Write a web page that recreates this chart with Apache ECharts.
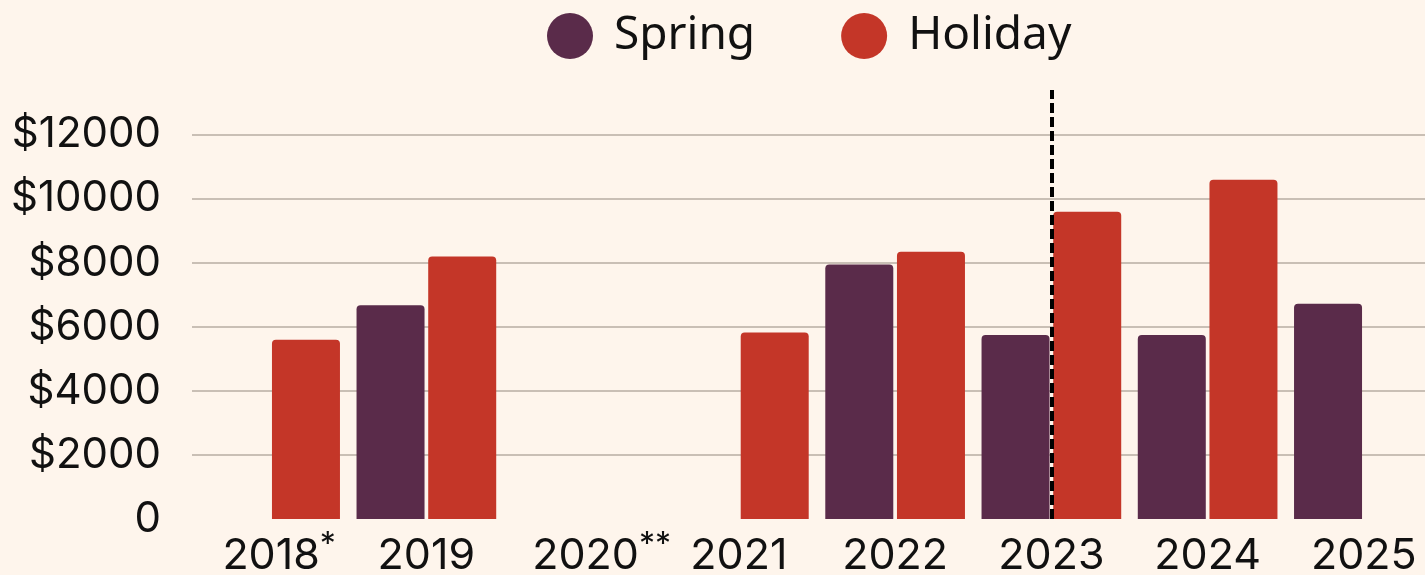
<!DOCTYPE html>
<html>
<head>
<meta charset="utf-8">
<script src="https://cdn.jsdelivr.net/npm/echarts@6/dist/echarts.min.js"></script>
<style>
    html, body { margin: 0; padding: 0; background: #fef5ec; }
    #chart1 { width: 1425px; height: 575px; }
</style>
</head>
<body>
<div id="chart1"></div>
<script>
// data
var years = ['2018', '2019', '2020', '2021', '2022', '2023', '2024', '2025'];
var yearNotes = { '2018': '*', '2020': '**' };
var springCost = [null, 6675, null, null, 7950, 5750, 5750, 6725];
var holidayCost = [5600, 8200, null, 5825, 8350, 9600, 10600, null];
var yTicks = [0, 2000, 4000, 6000, 8000, 10000, 12000];
var markYear = '2023';

var chart1 = echarts.init(document.getElementById('chart1'));

var axisFont = 'Inter, "Noto Sans", sans-serif';

var option = {
    backgroundColor: '#fef5ec',
    animation: false,
    legend: {
        data: ['Spring', 'Holiday'],
        left: 547,
        top: 13,
        padding: 0,
        icon: 'circle',
        itemWidth: 46,
        itemHeight: 46,
        itemGap: 86,
        textStyle: {
            fontFamily: '"Noto Sans", sans-serif',
            fontSize: 46,
            color: '#111',
            padding: [0, 0, 0, 16]
        }
    },
    grid: {
        left: 192,
        width: 1250,
        top: 90,
        bottom: 56,
        outerBoundsMode: 'none'
    },
    xAxis: {
        type: 'category',
        data: years,
        axisLine: { show: false },
        axisTick: { show: false },
        axisLabel: {
            interval: 0,
            hideOverlap: false,
            margin: 16,
            fontFamily: axisFont,
            fontSize: 43,
            lineHeight: 42,
            color: '#111',
            formatter: function (value) {
                var note = yearNotes[value];
                if (!note) return value;
                //星号做上标，左侧补同宽空白让年份居中
                var pad = note.length === 1 ? 'pad1' : 'pad2';
                return '{' + pad + '| }' + value + '{sup|' + note + '}';
            },
            rich: {
                pad1: { width: 18 },
                pad2: { width: 38 },
                sup: {
                    fontFamily: axisFont,
                    fontSize: 32,
                    lineHeight: 20,
                    padding: [0, 0, 22, 0],
                    color: '#111'
                }
            }
        }
    },
    yAxis: {
        type: 'value',
        min: 0,
        max: 13400,
        interval: 2000,
        axisLine: { show: false },
        axisTick: { show: false },
        axisLabel: {
            margin: 31,
            showMaxLabel: false,
            fontFamily: axisFont,
            fontSize: 42,
            color: '#111',
            formatter: function (value) {
                if (yTicks.indexOf(value) < 0) return '';
                return value === 0 ? '0' : '$' + value;
            }
        },
        splitLine: {
            showMinLine: false,
            showMaxLine: false,
            lineStyle: { color: '#c9bfb5', width: 2 }
        }
    },
    series: [{
        name: 'Spring',
        type: 'bar',
        data: springCost,
        barWidth: 68,
        barGap: '5.4%',
        itemStyle: {
            color: '#5a2b4a',
            borderRadius: [4, 4, 0, 0]
        }
    }, {
        name: 'Holiday',
        type: 'bar',
        data: holidayCost,
        barWidth: 68,
        barGap: '5.4%',
        itemStyle: {
            color: '#c43628',
            borderRadius: [4, 4, 0, 0]
        }
    }, {
        // 空折线只用来挂虚线，放在类目中心
        name: 'mark',
        type: 'line',
        data: [],
        z: 5,
        markLine: {
            silent: true,
            symbol: 'none',
            label: { show: false },
            lineStyle: {
                color: '#000',
                type: [10, 4],
                width: 4
            },
            data: [{ xAxis: markYear }]
        }
    }]
};
chart1.setOption(option, true);
</script>
</body>
</html>
